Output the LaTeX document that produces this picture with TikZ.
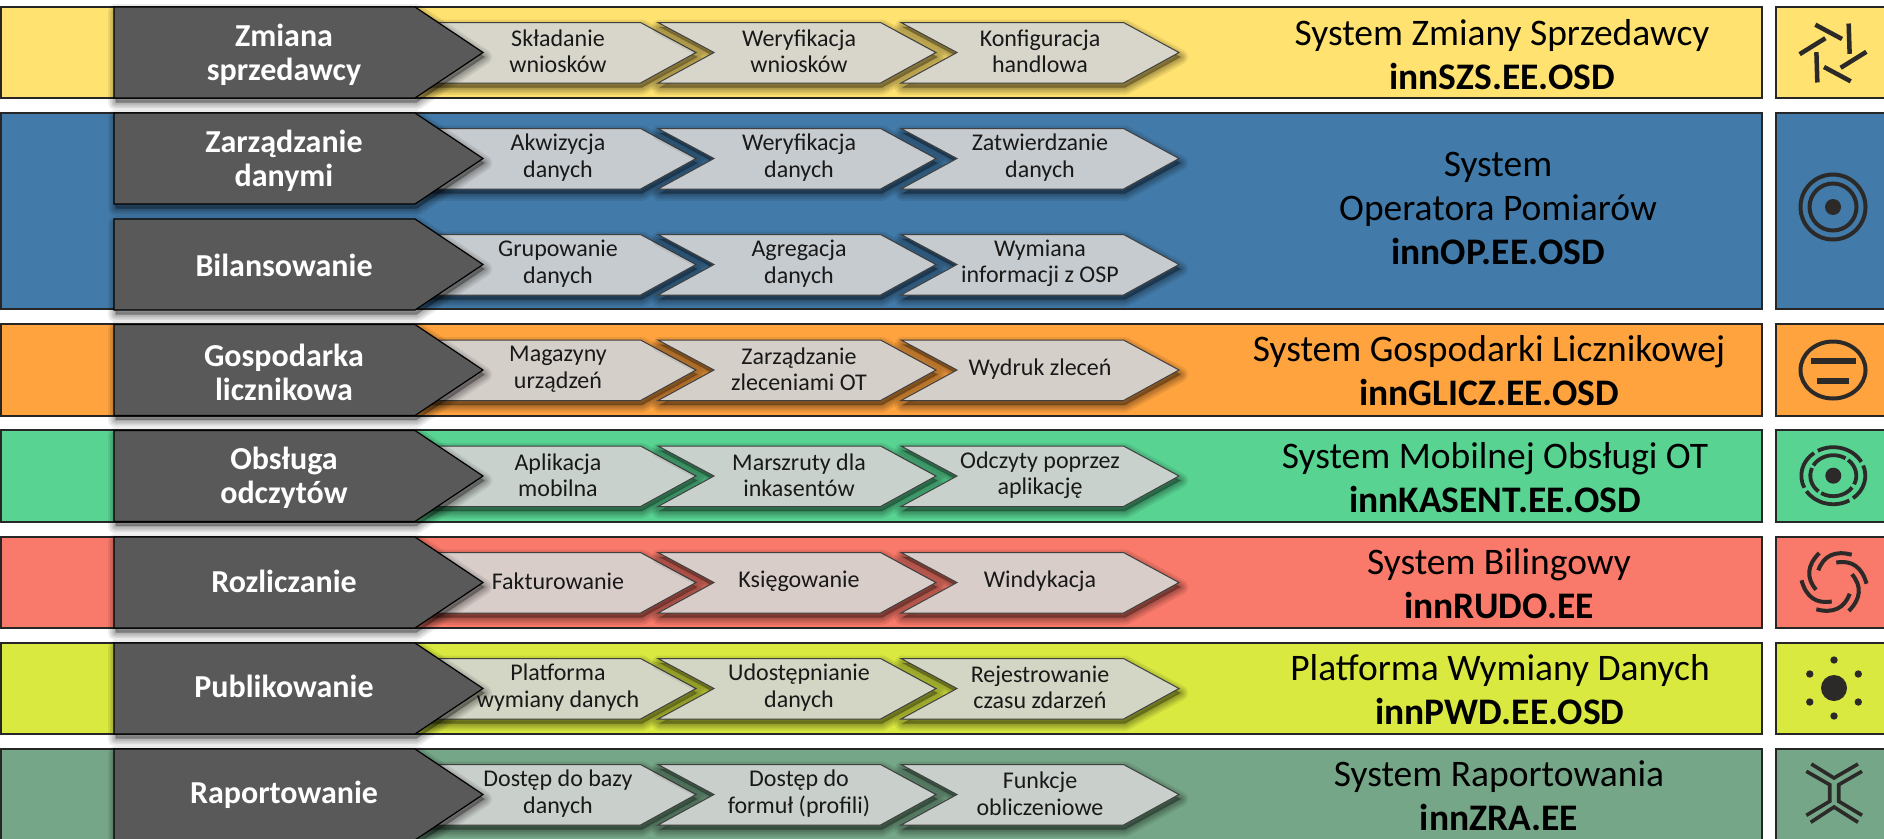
\documentclass[tikz,border=0pt]{standalone}
\usepackage{fontspec}
\setmainfont{Carlito}
\usetikzlibrary{calc}
\definecolor{cY}{HTML}{FFE26F}\definecolor{cB}{HTML}{427BA9}\definecolor{cO}{HTML}{FFA33F}
\definecolor{cG}{HTML}{58D391}\definecolor{cR}{HTML}{F9796A}\definecolor{cL}{HTML}{D9E93F}\definecolor{cT}{HTML}{75A687}
\definecolor{dark}{HTML}{595959}\definecolor{ink}{HTML}{2B2A29}
\tikzset{
 band/.style={draw=black!85,line width=1.2pt},
 pent/.style={fill=dark,draw=black,line width=1.2pt,line join=miter},
 chev/.style={draw=black!75,line width=1pt},
 ptext/.style={text=white,align=center,font=\fontsize{32}{34}\selectfont\bfseries},
 ctext/.style={text=black!90,align=center,font=\fontsize{24}{26.5}\selectfont},
 stext/.style={text=black,align=center,font=\fontsize{37.5}{44}\selectfont},
 ico/.style={draw=ink,line width=4pt},
 icof/.style={fill=ink,draw=none},
}
\newcommand\softshadow[1]{\foreach \w in {15,11,8,5,2}{\draw[xshift=1.5pt,yshift=-4.5pt,draw=black,fill=black,line width=\w pt,opacity=.075,line join=round] #1;}}
\newcommand\pentagon[4]{% name, ytop, text, text offset
 \softshadow{(114,#2)--(415,#2)--(483,#2+45.5)--(415,#2+91)--(114,#2+91)--cycle}
 \draw[pent] (114,#2)--(415,#2)--(483,#2+45.5)--(415,#2+91)--(114,#2+91)--cycle;
 \node[ptext] (#1) at (284,#2+#4) {#3};}
\newcommand\chevron[6]{% name, L, ytop(band), fillcolor, text, textx
 \softshadow{(#2,#3+15.5)--(#2+222.5,#3+15.5)--(#2+278,#3+45.5)--(#2+222.5,#3+76)--(#2,#3+76)--(#2+56,#3+45.5)--cycle}
 \draw[chev,fill=#4] (#2,#3+15.5)--(#2+222.5,#3+15.5)--(#2+278,#3+45.5)--(#2+222.5,#3+76)--(#2,#3+76)--(#2+56,#3+45.5)--cycle;
 \node[ctext] (#1) at (#6,#3+44.5) {#5};}
\newcommand\row[8][47.5]{% offset; prefix, ytop, colour, texts a,b,c, pent text
 \chevron{#2a}{418}{#3}{#4}{#5}{558}
 \chevron{#2b}{658}{#3}{#4}{#6}{799}
 \chevron{#2c}{901}{#3}{#4}{#7}{1040}
 \pentagon{#2p}{#3}{#8}{#1}}
\begin{document}
\begin{tikzpicture}[x=1pt,y=-1pt]
\useasboundingbox (0,0) rectangle (1884,838);
\draw[band,fill=cY] (1,7) rectangle (1762,98);
\draw[band,fill=cB] (1,113) rectangle (1762,309);
\draw[band,fill=cO] (1,324) rectangle (1762,416);
\draw[band,fill=cG] (1,430) rectangle (1762,522);
\draw[band,fill=cR] (1,537) rectangle (1762,628);
\draw[band,fill=cL] (1,643) rectangle (1762,734);
\draw[band,fill=cT] (1,749) rectangle (1762,845);
\draw[band,fill=cY] (1776,7) rectangle (1890,98);
\draw[band,fill=cB] (1776,113) rectangle (1890,309);
\draw[band,fill=cO] (1776,324) rectangle (1890,416);
\draw[band,fill=cG] (1776,430) rectangle (1890,522);
\draw[band,fill=cR] (1776,537) rectangle (1890,628);
\draw[band,fill=cL] (1776,643) rectangle (1890,734);
\draw[band,fill=cT] (1776,749) rectangle (1890,845);
\definecolor{fY}{HTML}{D8D6CB}\definecolor{fB}{HTML}{C6CBCF}\definecolor{fO}{HTML}{D5CFCA}
\definecolor{fG}{HTML}{C8D1CC}\definecolor{fR}{HTML}{D8CDC9}\definecolor{fL}{HTML}{D3D6C4}\definecolor{fT}{HTML}{C9CFCB}
\row{r1}{7}{fY}{Składanie\\wniosków}{Weryfikacja\\wniosków}{Konfiguracja\\handlowa}{Zmiana\\sprzedawcy}
\row{r2}{113}{fB}{Akwizycja\\danych}{Weryfikacja\\danych}{Zatwierdzanie\\danych}{Zarządzanie\\danymi}
\row[46]{r3}{219}{fB}{Grupowanie\\danych}{Agregacja\\danych}{Wymiana\\informacji z OSP}{Bilansowanie}
\row{r4}{324.5}{fO}{Magazyny\\urządzeń}{Zarządzanie\\zleceniami OT}{Wydruk zleceń}{Gospodarka\\licznikowa}
\row{r5}{430.5}{fG}{Aplikacja\\mobilna}{Marszruty dla\\inkasentów}{Odczyty poprzez\\aplikację}{Obsługa\\odczytów}
\row[44.5]{r6}{537}{fR}{Fakturowanie}{Księgowanie}{Windykacja}{Rozliczanie}
\row[43.5]{r7}{643}{fL}{Platforma\\wymiany danych}{Udostępnianie\\danych}{Rejestrowanie\\czasu zdarzeń}{Publikowanie}
\row[45.5]{r8}{749}{fT}{Dostęp do bazy\\danych}{Dostęp do\\formuł (profili)}{Funkcje\\obliczeniowe}{Raportowanie}
\node[stext] (s1) at (1502,54.5) {System Zmiany Sprzedawcy\\\textbf{innSZS.EE.OSD}};
\node[stext] (s2) at (1498,208) {System\\Operatora Pomiarów\\\textbf{innOP.EE.OSD}};
\node[stext] (s3) at (1489,371) {System Gospodarki Licznikowej\\\textbf{innGLICZ.EE.OSD}};
\node[stext] (s4) at (1495,477.5) {System Mobilnej Obsługi OT\\\textbf{innKASENT.EE.OSD}};
\node[stext] (s5) at (1499,583.5) {System Bilingowy\\\textbf{innRUDO.EE}};
\node[stext] (s6) at (1500,689.5) {Platforma Wymiany Danych\\\textbf{innPWD.EE.OSD}};
\node[stext] (s7) at (1499,795.5) {System Raportowania\\\textbf{innZRA.EE}};
\begin{scope}[shift={(1833,53)}]
 \foreach \a in {0,60,...,300}{\draw[ico,line width=4.5pt,rotate=\a] (-17.7,-28.3)--(9,-14);}
\end{scope}
\begin{scope}[shift={(1833,207)}]
 \draw[ico] (0,0) circle (32.5); \draw[ico] (0,0) circle (23.5); \fill[icof] (0,0) circle (8);
\end{scope}
\begin{scope}[shift={(1833,370)}]
 \draw[ico] (0,0) ellipse (32.5 and 28.5);
 \draw[ico,line width=5.5pt] (-22,-9)--(23,-9);
 \draw[ico,line width=5.5pt] (-16,11)--(16,11);
\end{scope}
\begin{scope}[shift={(1833.3,475.7)},y=1pt]
 \foreach \s/\e in {29/119,127/205,213/300,308/381}{\draw[ico,line width=3.8pt] (\s:32 and 28.5) arc[start angle=\s,end angle=\e,x radius=32,y radius=28.5];}
 \foreach \s/\e in {58/150,158/230,238/325,335/410}{\draw[ico,line width=3.8pt] (\s:23 and 20.5) arc[start angle=\s,end angle=\e,x radius=23,y radius=20.5];}
 \fill[icof] (0,0) circle (8);
\end{scope}
\begin{scope}[shift={(1834,582)}]
 \foreach \a in {0,60,...,300}{\draw[ico,rotate=\a] (-15.7,-11.7) .. controls (-10.3,-26.4) and (.8,-31.7) .. (17.7,-27.3);}
\end{scope}
\begin{scope}[shift={(1834,688)}]
 \fill[icof] (0,0) circle (13);
 \foreach \a in {30,90,...,330}{\fill[icof] (\a:28) circle (3.7);}
\end{scope}
\begin{scope}[shift={(1834,793)},ico/.append style={line width=3.6pt}]
 \draw[ico] (-22.7,-29)--(0,-15)--(24,-29);
 \draw[ico] (-27.7,-21.7)--(-4.3,-8.3)--(-4.3,8.3)--(-27.7,22.3);
 \draw[ico] (28,-21.7)--(4.7,-8.3)--(4.7,8.3)--(28,22.3);
 \draw[ico] (-23.3,29.3)--(0,14)--(24,29.3);
\end{scope}
\end{tikzpicture}
\end{document}
